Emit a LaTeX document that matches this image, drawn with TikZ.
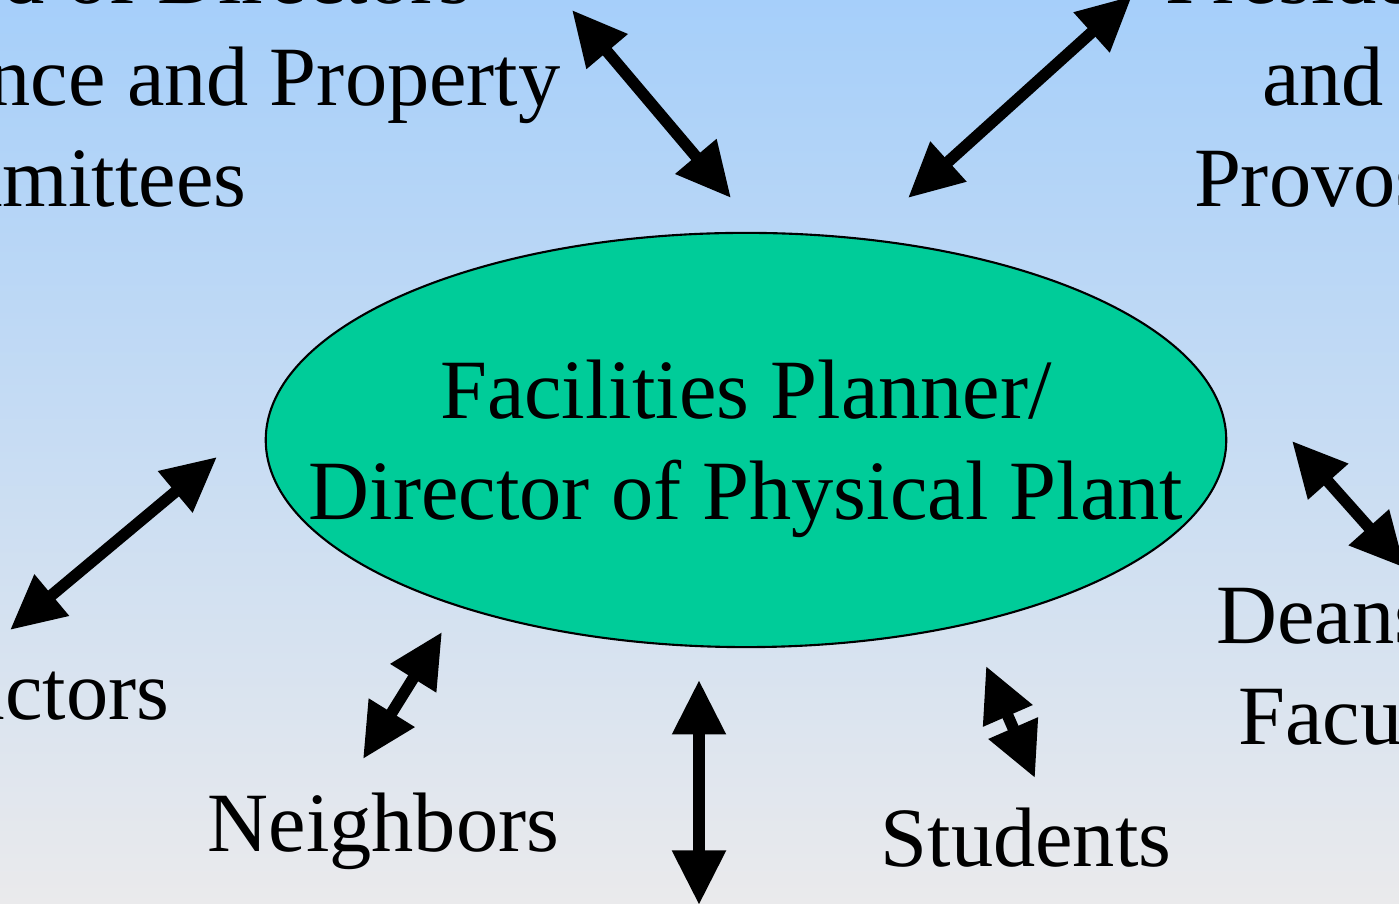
\documentclass[tikz,border=0pt]{standalone}
\usepackage{fontspec}
\setmainfont{Liberation Serif}
\usetikzlibrary{arrows.meta, positioning, shapes.geometric}

\definecolor{planfill}{RGB}{0,204,153}
\definecolor{skytop}{RGB}{166,207,250}
\definecolor{skybottom}{RGB}{234,234,236}

\tikzset{
  party/.style={font=\fontsize{24}{29}\selectfont, inner sep=0pt},
  link/.style={{Triangle[length=15.5pt,width=14.5pt]}-{Triangle[length=15.5pt,width=14.5pt]}, line width=3.3pt},
}

\begin{document}
\begin{tikzpicture}[x=0.01cm, y=-0.01cm]
  \useasboundingbox (0,0) rectangle (1399,904);
  \clip (0,0) rectangle (1399,904);
  \shade[top color=skytop, bottom color=skybottom] (0,0) rectangle (1399,904);

  % Centre
  \node[ellipse, draw, line width=0.6pt, fill=planfill, minimum width=9.6cm,
        minimum height=4.14cm, inner sep=0pt] (plan) at (746,440) {};
  \node[party, align=center, anchor=base] (plan-text) at (746,520)
        {Facilities Planner/\\Director of Physical Plant};

  % Parties round it (base = last line)
  \node[party, align=left, anchor=base west] (board) at (-162,207)
        {Board of Directors\\Finance and Property\\Committees};
  \node[party, align=center, anchor=base] (president) at (1323,207)
        {President\\and\\Provost};
  \node[party, align=center, anchor=base] (deans) at (1365,745)
        {Deans \&\\Faculty};
  \node[party, anchor=base east] (contractors) at (170,720) {Contractors};
  \node[party, anchor=base west] (neighbors) at (207,852) {Neighbors};
  \node[party, anchor=base west] (students) at (880,867) {Students};

  % Arrow ends
  \coordinate (board-out) at (572,10);
  \coordinate (board-in) at (731,198);
  \coordinate (president-out) at (1132,-4);
  \coordinate (president-in) at (908,198);
  \coordinate (contractors-in) at (217,457);
  \coordinate (contractors-out) at (10,630);
  \coordinate (neighbors-in) at (442,632);
  \coordinate (neighbors-out) at (363,759);
  \coordinate (below-in) at (699,680);
  \coordinate (below-out) at (699,905);
  \coordinate (students-in) at (986,666);
  \coordinate (students-out) at (1035,778);
  \coordinate (deans-in) at (1292,441);
  \coordinate (deans-out) at (1405,568);

  % Arrows
  \draw[link] (board-out) -- (board-in);
  \draw[link] (president-out) -- (president-in);
  \draw[link] (contractors-in) -- (contractors-out);
  \draw[link] (neighbors-in) -- (neighbors-out);
  \draw[link] (below-in) -- (below-out);
  \draw[link] (students-in) -- (students-out);
  \draw[link] (deans-in) -- (deans-out);
\end{tikzpicture}
\end{document}
